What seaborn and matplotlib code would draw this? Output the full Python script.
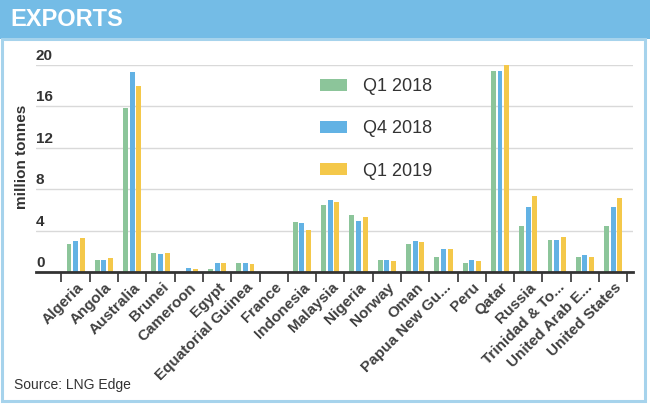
import matplotlib
matplotlib.use("Agg")
import matplotlib.pyplot as plt
import matplotlib.transforms as mtransforms
from matplotlib.patches import Rectangle
import seaborn as sns
import pandas as pd

countries = ["Algeria", "Angola", "Australia", "Brunei", "Cameroon", "Egypt",
             "Equatorial Guinea", "France", "Indonesia", "Malaysia", "Nigeria",
             "Norway", "Oman", "Papua New Gu...", "Peru", "Qatar", "Russia",
             "Trinidad & To...", "United Arab E...", "United States"]
q1_2018 = [2.75, 1.13, 15.8, 1.88, 0.0, 0.3, 0.9, 0.0, 4.8, 6.5, 5.5,
           1.17, 2.7, 1.46, 0.9, 19.45, 4.47, 3.1, 1.46, 4.47]
q4_2018 = [2.95, 1.13, 19.3, 1.71, 0.35, 0.9, 0.9, 0.0, 4.7, 6.96, 4.9,
           1.17, 2.98, 2.2, 1.17, 19.45, 6.3, 3.1, 1.62, 6.25]
q1_2019 = [3.33, 1.33, 18.0, 1.88, 0.3, 0.9, 0.8, 0.0, 4.1, 6.8, 5.35,
           1.07, 2.9, 2.26, 1.07, 20.0, 7.3, 3.37, 1.46, 7.15]
series_names = ["Q1 2018", "Q4 2018", "Q1 2019"]
y_ticks = [0, 4, 8, 12, 16, 20]

colors = ["#8cc59a", "#62b2e4", "#f4c84a"]

rows = []
for name, vals in zip(series_names, [q1_2018, q4_2018, q1_2019]):
    for c, v in zip(countries, vals):
        rows.append({"country": c, "value": v, "period": name})
df = pd.DataFrame(rows)

sns.set_theme(style="white")
plt.rcParams["font.family"] = ["Liberation Sans", "DejaVu Sans"]

fig = plt.figure(figsize=(6.5, 4.05), dpi=100)
W, H = 650, 405

# header band
fig.patches.append(Rectangle((0, 1 - 39 / H), 1, 39 / H, transform=fig.transFigure,
                             facecolor="#74bce6", edgecolor="none", zorder=0))
# panel border
fig.patches.append(Rectangle((2 / W, 4 / H), 643 / W, (H - 39 - 4) / H,
                             transform=fig.transFigure, facecolor="none",
                             edgecolor="#a6d3ec", lw=2.2, zorder=1))
fig.text(10 / W, 1 - 20 / H, "EXPORTS", color="white", fontsize=17,
         fontweight="bold", va="center", ha="left")
fig.text(14 / W, 1 - 385 / H, "Source: LNG Edge", color="#333333", fontsize=10,
         va="center", ha="left")

ax = fig.add_axes([36 / W, 1 - 272 / H, (633 - 36) / W, (272 - 65) / H])
sns.barplot(data=df, x="country", y="value", hue="period", palette=colors,
            width=0.7, gap=0.25, ax=ax, saturation=1, linewidth=0)

ax.set_ylim(0, 20)
ax.set_xlim(-1.4, 19.7)
ax.set_yticks(y_ticks)
ax.set_yticklabels([str(t) for t in y_ticks])
ax.yaxis.grid(True, color="#d9d9d9", lw=1)
ax.set_axisbelow(True)
for s in ["top", "right", "left"]:
    ax.spines[s].set_visible(False)
ax.spines["bottom"].set_color("#333333")
ax.spines["bottom"].set_linewidth(2)

ax.tick_params(axis="y", length=0, pad=0, labelsize=11, labelcolor="#333333")
offset = mtransforms.ScaledTranslation(0, 1.5 / 72, fig.dpi_scale_trans)
for lbl in ax.get_yticklabels():
    lbl.set_ha("left")
    lbl.set_va("bottom")
    lbl.set_fontweight("bold")
    lbl.set_transform(lbl.get_transform() + offset)

ax.set_xticks(range(len(countries)))
ax.set_xticks([i - 0.5 for i in range(len(countries) + 1)], minor=True)
ax.tick_params(axis="x", which="major", length=0, pad=6)
ax.tick_params(axis="x", which="minor", length=7, width=1.2, color="#333333",
               direction="out", bottom=True)
ax.set_xticklabels(countries, rotation=45, ha="right", rotation_mode="anchor",
                   fontsize=11, fontweight="bold", color="#404040")
xoff = mtransforms.ScaledTranslation(0.5 / 72, 0, fig.dpi_scale_trans)
for lbl in ax.get_xticklabels():
    lbl.set_transform(lbl.get_transform() + xoff)

ax.set_xlabel("")
ax.set_ylabel("million tonnes", fontsize=11, fontweight="bold", color="#333333")
ax.yaxis.set_label_coords(-0.012, 0.556)

handles, labels = ax.get_legend_handles_labels()
ax.legend(handles, labels, loc="upper left",
          bbox_to_anchor=(320 / W, 1 - 78 / H), bbox_transform=fig.transFigure,
          frameon=False, fontsize=13, handlelength=1.5, handleheight=0.65,
          handletextpad=0.9, labelspacing=1.4, borderpad=0, borderaxespad=0,
          labelcolor="#333333")

fig.savefig("out.png", dpi=100)
